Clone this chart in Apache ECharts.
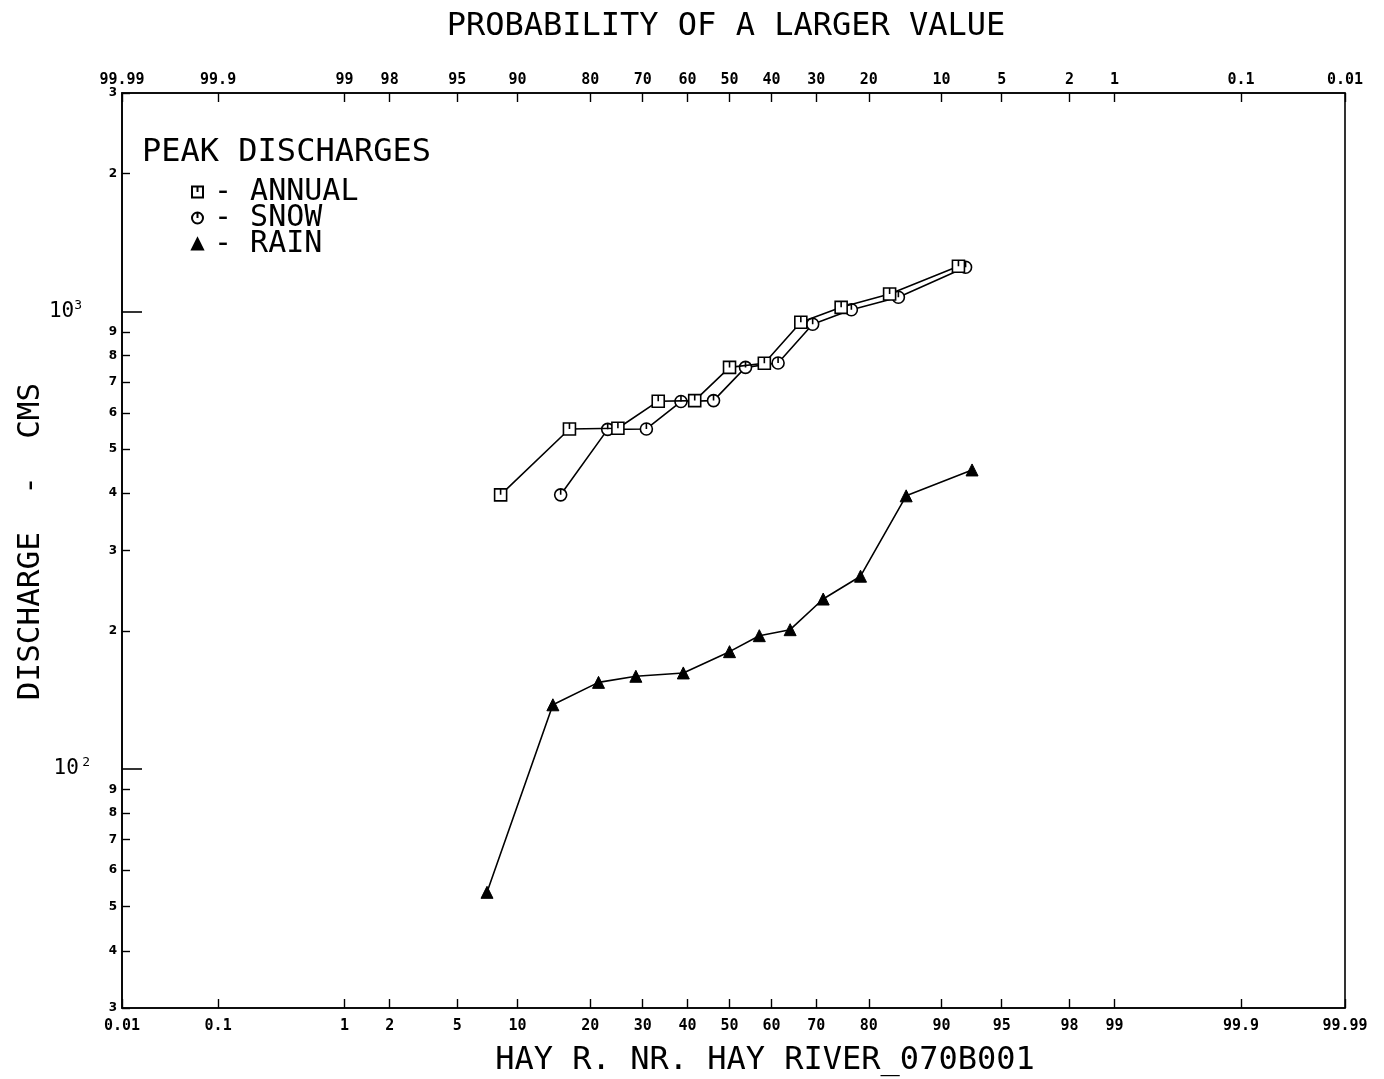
<!DOCTYPE html>
<html><head><meta charset="utf-8">
<script src="https://cdn.jsdelivr.net/npm/echarts@6/dist/echarts.min.js"></script>
<style>html,body{margin:0;padding:0;background:#fff}#c{width:1384px;height:1079px}</style>
</head><body><div id="c"></div>
<script>
// ---- data ----
const probTicksBottom = ['0.01','0.1','1','2','5','10','20','30','40','50','60','70','80','90','95','98','99','99.9','99.99'];
const probTicksTop = ['99.99','99.9','99','98','95','90','80','70','60','50','40','30','20','10','5','2','1','0.1','0.01'];
const yMinorTicks = [30,40,50,60,70,80,90,200,300,400,500,600,700,800,900,2000,3000];
const yMinorLabels = ['3','4','5','6','7','8','9','2','3','4','5','6','7','8','9','2','3'];
const yMajorTicks = [100,1000];
const yMajorExp = ['2','3'];

const annualProb = [8.33,16.67,25,33.33,41.67,50,58.33,66.67,75,83.33,91.67];
const annualQ = [397,553,555,636,638,754,770,946,1020,1091,1254];
const snowProb = [15.38,23.08,30.77,38.46,46.15,53.85,61.54,69.23,76.92,84.62,92.31];
const snowQ = [397,552,553,635,638,754,771,937,1008,1073,1248];
const rainProb = [7.14,14.29,21.43,28.57,39,50,57.14,64.29,71.43,78.57,85.71,92.86];
const rainQ = [53.7,138,154.5,159.3,162,180.3,195.4,201.4,235,263.6,395,450];

// ---- normal probability scale ----
function probit(p){
 const a=[-3.969683028665376e+01,2.209460984245205e+02,-2.759285104469687e+02,1.383577518672690e+02,-3.066479806614716e+01,2.506628277459239e+00];
 const b=[-5.447609879822406e+01,1.615858368580409e+02,-1.556989798598866e+02,6.680131188771972e+01,-1.328068155288572e+01];
 const c=[-7.784894002430293e-03,-3.223964580411365e-01,-2.400758277161838e+00,-2.549732539343734e+00,4.374664141464968e+00,2.938163982698783e+00];
 const d=[7.784695709041462e-03,3.224671290700398e-01,2.445134137142996e+00,3.754408661907416e+00];
 const pl=0.02425, ph=1-pl; let q,r;
 if(p<pl){q=Math.sqrt(-2*Math.log(p));return (((((c[0]*q+c[1])*q+c[2])*q+c[3])*q+c[4])*q+c[5])/((((d[0]*q+d[1])*q+d[2])*q+d[3])*q+1);}
 if(p<=ph){q=p-0.5;r=q*q;return (((((a[0]*r+a[1])*r+a[2])*r+a[3])*r+a[4])*r+a[5])*q/(((((b[0]*r+b[1])*r+b[2])*r+b[3])*r+b[4])*r+1);}
 q=Math.sqrt(-2*Math.log(1-p));return -(((((c[0]*q+c[1])*q+c[2])*q+c[3])*q+c[4])*q+c[5])/((((d[0]*q+d[1])*q+d[2])*q+d[3])*q+1);
}
const zOf = pct => probit(pct/100);
// the plotter's frame starts a little inside the 0.01 line; its left edge carries the 0.01 label
const zMax = zOf(99.99);
const zMin = -3.671;
const xTickZ = probTicksBottom.map((s, i) => i === 0 ? zMin : zOf(parseFloat(s)));
const yMin = Math.log10(30), yMax = Math.log10(3000);
const yMinorL = yMinorTicks.map(Math.log10);
const yMajorL = yMajorTicks.map(Math.log10);
const near = (arr, v) => arr.findIndex(t => Math.abs(t - v) < 1e-6);
const pts = (P, Q) => P.map((p, i) => [zOf(p), Math.log10(Q[i])]);

const MONO = '"DejaVu Sans Mono", "Liberation Mono", monospace';
const sqPath = 'path://M0,0H10V10H0Z M5,0V5';
const cirPath = 'path://M5,0A5,5,0,1,1,4.999,0Z M5,0V5';

const xBase = (pos, labels, margin) => ({
  type: 'value', position: pos, min: zMin, max: zMax,
  axisLine: {show: true, onZero: false, lineStyle: {color: '#000', width: 1.6}},
  axisTick: {show: true, inside: true, length: 9, customValues: xTickZ, lineStyle: {color: '#000', width: 1.4}},
  axisLabel: {show: true, customValues: xTickZ, margin: margin, hideOverlap: false,
    fontFamily: MONO, fontSize: 15, fontWeight: 'bold', color: '#000',
    formatter: v => { const i = near(xTickZ, v); return i >= 0 ? labels[i] : ''; }},
  splitLine: {show: false}
});

const chart = echarts.init(document.getElementById('c'), null, {renderer: 'canvas'});
chart.setOption({
  animation: false,
  backgroundColor: '#fff',
  title: [
    {text: 'PROBABILITY OF A LARGER VALUE', left: 721, top: 6, textAlign: 'center',
     textStyle: {fontFamily: MONO, fontSize: 32, fontWeight: 'normal', color: '#000'}},
    {text: 'HAY R. NR. HAY RIVER_070B001', left: 760, top: 1040, textAlign: 'center',
     textStyle: {fontFamily: MONO, fontSize: 32, fontWeight: 'normal', color: '#000'}},
    {text: 'PEAK DISCHARGES', left: 137, top: 132,
     textStyle: {fontFamily: MONO, fontSize: 32, fontWeight: 'normal', color: '#000'}}
  ],
  legend: {
    data: [{name: 'ANNUAL', icon: sqPath}, {name: 'SNOW', icon: cirPath}, {name: 'RAIN', icon: 'triangle'}],
    orient: 'vertical', left: 186, top: 172, itemWidth: 11, itemHeight: 11, itemGap: -4,
    formatter: '- {name}',
    textStyle: {fontFamily: MONO, fontSize: 30, lineHeight: 26, color: '#000', padding: [0,0,0,6]}
  },
  grid: {left: 122, right: 39, top: 93, bottom: 71, show: true, borderColor: '#000', borderWidth: 1.6, containLabel: false},
  xAxis: [xBase('bottom', probTicksBottom, 11), xBase('top', probTicksTop, 5)],
  yAxis: [
    {type: 'value', position: 'left', min: yMin, max: yMax,
     name: 'DISCHARGE  -  CMS', nameLocation: 'middle', nameRotate: 90, nameGap: 76,
     nameTextStyle: {fontFamily: MONO, fontSize: 31, color: '#000', padding: [0,0,0,18]},
     axisLine: {show: true, onZero: false, lineStyle: {color: '#000', width: 1.6}},
     axisTick: {show: true, inside: true, length: 8, customValues: yMinorL, lineStyle: {color: '#000', width: 1.4}},
     axisLabel: {show: true, customValues: yMinorL, margin: 5, hideOverlap: false,
       fontFamily: '"DejaVu Sans", sans-serif', fontSize: 12, fontWeight: 'bold', color: '#000',
       formatter: v => { const i = near(yMinorL, v); return i >= 0 ? yMinorLabels[i] : ''; }},
     splitLine: {show: false}},
    {type: 'value', position: 'left', min: yMin, max: yMax,
     axisLine: {show: false, onZero: false},
     axisTick: {show: true, inside: true, length: 20, customValues: yMajorL, lineStyle: {color: '#000', width: 1.6}},
     axisLabel: {show: true, customValues: yMajorL, margin: 32, hideOverlap: false,
       formatter: v => { const i = near(yMajorL, v); if (i < 0) return '';
         return i === 1 ? '{b|10}{s|' + yMajorExp[i] + '}{g|}' : '{b|10} {s|' + yMajorExp[i] + '}'; },
       rich: {b: {fontFamily: MONO, fontSize: 21, color: '#000'},
              s: {fontFamily: MONO, fontSize: 13, color: '#000', padding: [0,0,12,0]},
              g: {width: 8}}},
     splitLine: {show: false}}
  ],
  series: [
    {name: 'SNOW', type: 'line', xAxisIndex: 0, yAxisIndex: 0, data: pts(snowProb, snowQ),
     symbol: cirPath, symbolSize: 12, showAllSymbol: true,
     itemStyle: {color: '#fff', borderColor: '#000', borderWidth: 1.6},
     lineStyle: {color: '#000', width: 1.6}, z: 2},
    {name: 'ANNUAL', type: 'line', xAxisIndex: 0, yAxisIndex: 0, data: pts(annualProb, annualQ),
     symbol: sqPath, symbolSize: 12, showAllSymbol: true,
     itemStyle: {color: '#fff', borderColor: '#000', borderWidth: 1.6},
     lineStyle: {color: '#000', width: 1.6}, z: 3},
    {name: 'RAIN', type: 'line', xAxisIndex: 0, yAxisIndex: 0, data: pts(rainProb, rainQ),
     symbol: 'triangle', symbolSize: 12, showAllSymbol: true,
     itemStyle: {color: '#000', borderColor: '#000', borderWidth: 1},
     lineStyle: {color: '#000', width: 1.6}, z: 3}
  ]
});
</script>
</body></html>
